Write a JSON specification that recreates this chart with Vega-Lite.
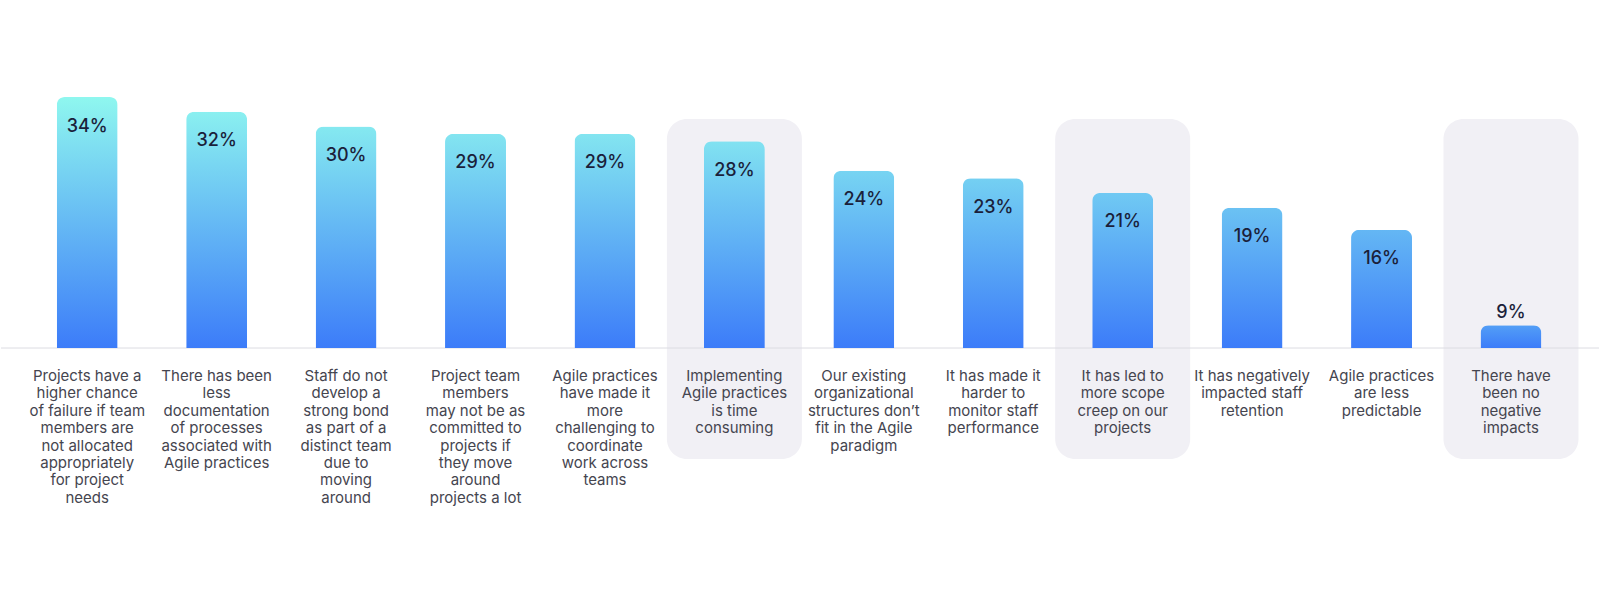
{
  "$schema": "https://vega.github.io/schema/vega-lite/v6.json",
  "width": 1600,
  "height": 605,
  "autosize": {"type": "fit", "contains": "padding"},
  "padding": 0,
  "background": "white",
  "config": {"view": {"stroke": null}},
  "data": {
    "values": [
      {"category": "Projects have a higher chance of failure if team members are not allocated appropriately for project needs", "pct": 0.34, "drawn": 0.34, "highlight": false, "lines": ["Projects have a", "higher chance", "of failure if team", "members are", "not allocated", "appropriately", "for project", "needs"]},
      {"category": "There has been less documentation of processes associated with Agile practices", "pct": 0.32, "drawn": 0.32, "highlight": false, "lines": ["There has been", "less", "documentation", "of processes", "associated with", "Agile practices"]},
      {"category": "Staff do not develop a strong bond as part of a distinct team due to moving around", "pct": 0.30, "drawn": 0.30, "highlight": false, "lines": ["Staff do not", "develop a", "strong bond", "as part of a", "distinct team", "due to", "moving", "around"]},
      {"category": "Project team members may not be as committed to projects if they move around projects a lot", "pct": 0.29, "drawn": 0.29, "highlight": false, "lines": ["Project team", "members", "may not be as", "committed to", "projects if", "they move", "around", "projects a lot"]},
      {"category": "Agile practices have made it more challenging to coordinate work across teams", "pct": 0.29, "drawn": 0.29, "highlight": false, "lines": ["Agile practices", "have made it", "more", "challenging to", "coordinate", "work across", "teams"]},
      {"category": "Implementing Agile practices is time consuming", "pct": 0.28, "drawn": 0.28, "highlight": true, "lines": ["Implementing", "Agile practices", "is time", "consuming"]},
      {"category": "Our existing organizational structures don’t fit in the Agile paradigm", "pct": 0.24, "drawn": 0.24, "highlight": false, "lines": ["Our existing", "organizational", "structures don’t", "fit in the Agile", "paradigm"]},
      {"category": "It has made it harder to monitor staff performance", "pct": 0.23, "drawn": 0.23, "highlight": false, "lines": ["It has made it", "harder to", "monitor staff", "performance"]},
      {"category": "It has led to more scope creep on our projects", "pct": 0.21, "drawn": 0.21, "highlight": true, "lines": ["It has led to", "more scope", "creep on our", "projects"]},
      {"category": "It has negatively impacted staff retention", "pct": 0.19, "drawn": 0.19, "highlight": false, "lines": ["It has negatively", "impacted staff", "retention"]},
      {"category": "Agile practices are less predictable", "pct": 0.16, "drawn": 0.16, "highlight": false, "lines": ["Agile practices", "are less", "predictable"]},
      {"category": "There have been no negative impacts", "pct": 0.09, "drawn": 0.031, "highlight": true, "lines": ["There have", "been no", "negative", "impacts"]}
    ]
  },
  "layer": [
    {
      "transform": [{"filter": "datum.highlight"}],
      "mark": {"type": "bar", "color": "#f1f0f5", "cornerRadius": 20, "width": {"band": 1.043}},
      "encoding": {
        "x": {"field": "category", "type": "nominal", "sort": null, "axis": null, "scale": {
          "domain": [
            "Projects have a higher chance of failure if team members are not allocated appropriately for project needs",
            "There has been less documentation of processes associated with Agile practices",
            "Staff do not develop a strong bond as part of a distinct team due to moving around",
            "Project team members may not be as committed to projects if they move around projects a lot",
            "Agile practices have made it more challenging to coordinate work across teams",
            "Implementing Agile practices is time consuming",
            "Our existing organizational structures don’t fit in the Agile paradigm",
            "It has made it harder to monitor staff performance",
            "It has led to more scope creep on our projects",
            "It has negatively impacted staff retention",
            "Agile practices are less predictable",
            "There have been no negative impacts"
          ],
          "range": [21.5, 1574.7], "paddingInner": 0, "paddingOuter": 0}},
        "y": {"datum": 0.3102, "type": "quantitative", "axis": null, "scale": {"domain": [-0.3481, 0.4714], "nice": false, "zero": false}},
        "y2": {"datum": -0.1504}
      }
    },
    {
      "data": {"values": [{}]},
      "mark": {"type": "rule", "color": "#dcdce2", "strokeWidth": 1},
      "encoding": {"y": {"datum": 0, "type": "quantitative"}}
    },
    {
      "mark": {
        "type": "bar",
        "width": {"band": 0.471},
        "cornerRadiusTopLeft": 8,
        "cornerRadiusTopRight": 8,
        "fill": {"expr": "{gradient: 'linear', x1: 0, y1: 0, x2: 0, y2: 1, stops: [{offset: 0, color: 'rgb(' + round(61 + 82 * datum.pct / 0.34) + ',' + round(127 + 120 * datum.pct / 0.34) + ',' + round(249 - 10 * datum.pct / 0.34) + ')'}, {offset: 1, color: '#3c7cf9'}]}"}
      },
      "encoding": {
        "x": {"field": "category", "type": "nominal", "sort": null},
        "y": {"field": "drawn", "type": "quantitative"}
      }
    },
    {
      "transform": [{"filter": "datum.pct >= 0.1"}],
      "mark": {"type": "text", "baseline": "middle", "align": "center", "dy": 29.5, "fontSize": 18, "fontWeight": 500, "font": "Inter", "color": "#1b1f3b"},
      "encoding": {
        "x": {"field": "category", "type": "nominal", "sort": null},
        "y": {"field": "drawn", "type": "quantitative"},
        "text": {"field": "pct", "type": "quantitative", "format": ".0%"}
      }
    },
    {
      "transform": [{"filter": "datum.pct < 0.1"}],
      "mark": {"type": "text", "baseline": "middle", "align": "center", "dy": -12.5, "fontSize": 18, "fontWeight": 500, "font": "Inter", "color": "#1b1f3b"},
      "encoding": {
        "x": {"field": "category", "type": "nominal", "sort": null},
        "y": {"field": "drawn", "type": "quantitative"},
        "text": {"field": "pct", "type": "quantitative", "format": ".0%"}
      }
    },
    {
      "mark": {"type": "text", "baseline": "top", "align": "center", "dy": 21, "lineHeight": 17.4, "fontSize": 15, "font": "Inter", "fontWeight": 400, "color": "#45454f"},
      "encoding": {
        "x": {"field": "category", "type": "nominal", "sort": null},
        "y": {"datum": 0, "type": "quantitative"},
        "text": {"field": "lines", "type": "nominal"}
      }
    }
  ]
}
